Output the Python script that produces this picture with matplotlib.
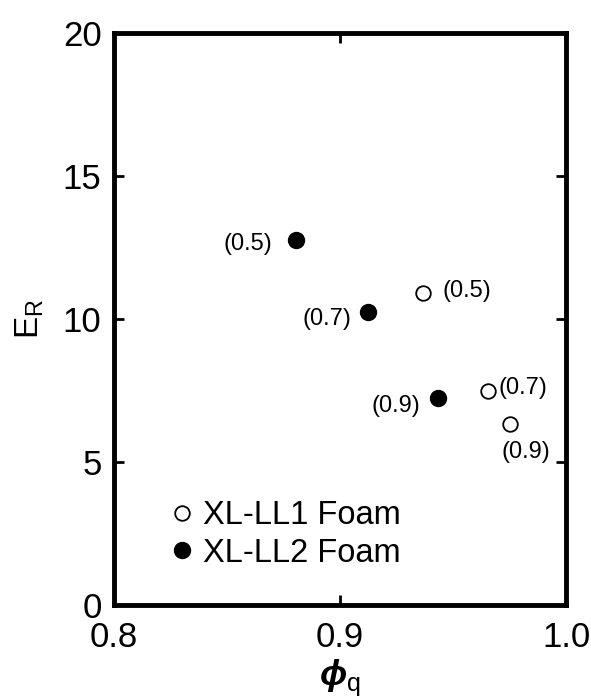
import numpy as np
import matplotlib.pyplot as plt

plt.rcParams['font.family'] = ['Liberation Sans', 'DejaVu Sans']
plt.rcParams['mathtext.fontset'] = 'custom'
plt.rcParams['mathtext.rm'] = 'Liberation Sans'
plt.rcParams['mathtext.bfit'] = 'Liberation Sans:italic:bold'

# void fraction vs reduction factor, labels are the solids loading
phi_ll1 = [0.9366, 0.9656, 0.9752]
er_ll1 = [10.90, 7.47, 6.31]
lab_ll1 = ['(0.5)', '(0.7)', '(0.9)']

phi_ll2 = [0.8804, 0.9125, 0.9435]
er_ll2 = [12.74, 10.24, 7.24]
lab_ll2 = ['(0.5)', '(0.7)', '(0.9)']

fig = plt.figure(figsize=(5.91, 7.0), dpi=100)
ax = fig.add_axes([0.193, 0.136, 0.765, 0.817])

ax.plot(phi_ll1, er_ll1, 'o', ms=10.5, mfc='white', mec='black', mew=1.3,
        label='XL-LL1 Foam', zorder=3)
ax.plot(phi_ll2, er_ll2, 'o', ms=11.5, mfc='black', mec='black',
        label='XL-LL2 Foam', zorder=3)

# point labels (offsets in points)
offs2 = [(-17, -2.4), (-12, -5), (-13, -5.8)]
for x, y, s, (dx, dy) in zip(phi_ll2, er_ll2, lab_ll2, offs2):
    ax.annotate(s, (x, y), xytext=(dx, dy), textcoords='offset points',
                ha='right', va='center', fontsize=17)
offs1 = [(14, 1.2, 'left'), (7, 2, 'left'), (11, -20, 'center')]
for x, y, s, (dx, dy, ha) in zip(phi_ll1, er_ll1, lab_ll1, offs1):
    ax.annotate(s, (x, y), xytext=(dx, dy), textcoords='offset points',
                ha=ha, va='center', fontsize=17)

ax.set_xlim(0.8, 1.0)
ax.set_ylim(0, 20)
ax.set_xticks([0.8, 0.9, 1.0])
ax.set_xticklabels(['0.8', '0.9', '1.0'])
ax.set_yticks([0, 5, 10, 15, 20])
ax.tick_params(direction='in', length=7, width=2, labelsize=25,
               top=True, right=True)
ax.tick_params(axis='x', pad=12)
ax.tick_params(axis='y', pad=9)
for sp in ax.spines.values():
    sp.set_linewidth(3.5)

ax.set_xlabel(r'$\mathbfit{\phi}_{\mathrm{q}}$', fontsize=26, labelpad=2)
ax.set_ylabel(r'$\mathrm{E}_{\mathrm{R}}$', fontsize=24, labelpad=12)

ax.legend(loc='lower left', bbox_to_anchor=(0.092, 0.04), frameon=False,
          fontsize=23.5, handlelength=0.8, handletextpad=0.25,
          labelspacing=0.2, borderaxespad=0)

plt.savefig('out.png', dpi=100)
